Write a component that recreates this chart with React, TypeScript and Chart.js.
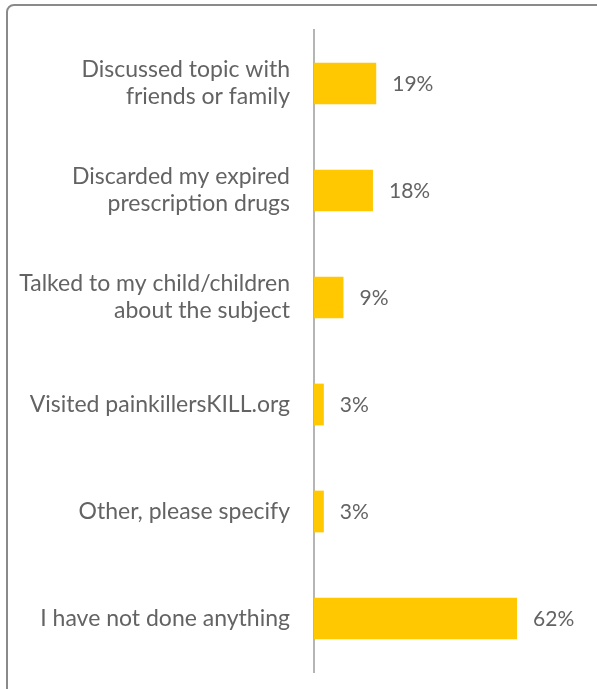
import React, { useEffect, useRef } from "react";
import { Chart, registerables } from "chart.js";

Chart.register(...registerables);

const categories: (string | string[])[] = [
  ["Discussed topic with", "friends or family"],
  ["Discarded my expired", "prescription drugs"],
  ["Talked to my child/children", "about the subject"],
  "Visited painkillersKILL.org",
  "Other, please specify",
  "I have not done anything",
];
const values = [19, 18, 9, 3, 3, 62];
const valueLabels = ["19%", "18%", "9%", "3%", "3%", "62%"];

const FONT = "Lato, 'Open Sans', sans-serif";

const valueLabelPlugin = {
  id: "valueLabels",
  afterDatasetsDraw(chart: any) {
    const ctx = chart.ctx;
    const meta = chart.getDatasetMeta(0);
    ctx.save();
    ctx.font = `21px ${FONT}`;
    ctx.fillStyle = "#636363";
    ctx.textAlign = "left";
    ctx.textBaseline = "middle";
    meta.data.forEach((bar: any, i: number) => {
      ctx.fillText(valueLabels[i], bar.x + 16, bar.y + 1);
    });
    ctx.restore();
  },
};

export default function App() {
  const ref = useRef<HTMLCanvasElement>(null);
  useEffect(() => {
    if (!ref.current) return;
    const chart = new Chart(ref.current, {
      type: "bar",
      data: {
        labels: categories,
        datasets: [
          {
            data: values,
            backgroundColor: "#FFC800",
            barPercentage: 0.39,
            categoryPercentage: 1,
          },
        ],
      },
      options: {
        indexAxis: "y",
        animation: false,
        responsive: false,
        layout: { padding: { top: 30, bottom: 17, left: 0, right: 21 } },
        plugins: { legend: { display: false }, tooltip: { enabled: false } },
        scales: {
          x: { display: false, min: 0, max: 80 },
          y: {
            afterFit: (scale: any) => {
              scale.width = 314;
              scale.paddingTop = 0;
              scale.paddingBottom = 0;
            },
            grid: { display: false, drawTicks: false },
            border: { display: true, color: "#b5b5b5", width: 2 },
            ticks: {
              padding: 24,
              color: "#636363",
              font: { family: FONT, size: 23, lineHeight: 1.17 },
            },
          },
        },
      },
      plugins: [valueLabelPlugin],
    });
    return () => chart.destroy();
  }, []);
  return (
    <div style={{ position: "fixed", left: 0, top: 0, width: 597, height: 689, overflow: "hidden", background: "#fff" }}>
      <div
        style={{
          position: "absolute",
          left: 6,
          top: 4,
          width: 640,
          height: 720,
          border: "2px solid #8a8a8a",
          borderTopLeftRadius: 8,
          boxSizing: "border-box",
        }}
      />
      <canvas ref={ref} width={597} height={689} style={{ position: "absolute", left: 0, top: 0 }} />
    </div>
  );
}
